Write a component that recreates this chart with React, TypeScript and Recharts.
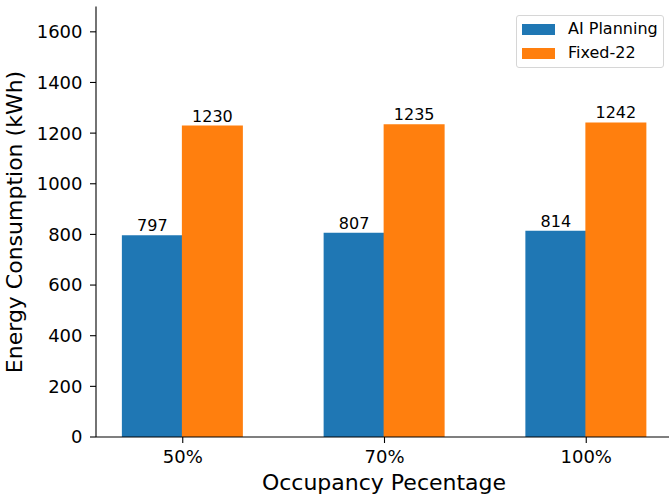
import React from 'react';
import { BarChart, Bar, XAxis, YAxis, LabelList, Label } from 'recharts';

const categories = ['50%', '70%', '100%'];
const aiPlanning = [797, 807, 814];
const fixed22 = [1230, 1235, 1242];
const yTicks = [0, 200, 400, 600, 800, 1000, 1200, 1400, 1600];

const data = categories.map((c, i) => ({
  x: i,
  name: c,
  ai: aiPlanning[i],
  fixed: fixed22[i],
}));

const FONT = '"DejaVu Sans", sans-serif';
const BLUE = '#1f77b4';
const ORANGE = '#ff7f0e';

// matplotlib-style legend box, drawn over the plot
const LegendBox = () => (
  <div
    style={{
      position: 'absolute',
      left: 516,
      top: 15,
      width: 146,
      height: 51,
      border: '1px solid #d6d6d6',
      borderRadius: 3,
      background: 'rgba(255,255,255,0.8)',
      fontFamily: FONT,
      fontSize: 16,
      color: '#000',
    }}
  >
    {[
      { label: 'AI Planning', color: BLUE, top: 6 },
      { label: 'Fixed-22', color: ORANGE, top: 30 },
    ].map((it) => (
      <div key={it.label} style={{ position: 'absolute', left: 5, top: it.top, display: 'flex', alignItems: 'center', height: 14 }}>
        <div style={{ width: 33, height: 11, background: it.color }} />
        <span style={{ marginLeft: 13, lineHeight: '14px', whiteSpace: 'nowrap' }}>{it.label}</span>
      </div>
    ))}
  </div>
);

const YTitle = () => {
  const cy = 222;
  return (
    <text
      x={22}
      y={cy}
      transform={`rotate(-90, 22, ${cy})`}
      textAnchor="middle"
      fontFamily={FONT}
      fontSize={22}
      fill="#000"
    >
      Energy Consumption (kWh)
    </text>
  );
};

const XTitle = () => (
  <text x={384} y={490} textAnchor="middle" fontFamily={FONT} fontSize={22} fill="#000">
    Occupancy Pecentage
  </text>
);

export default function App() {
  return (
    <div style={{ position: 'absolute', left: 0, top: 0, width: 669, height: 497, overflow: 'hidden', background: '#fff' }}>
      <BarChart
        width={674}
        height={497}
        data={data}
        margin={{ top: 6.5, right: 1, bottom: 0, left: 0 }}
        barGap={-1}
      >
        <XAxis
          dataKey="x"
          type="number"
          domain={[-0.43, 2.43]}
          ticks={[0, 1, 2]}
          allowDataOverflow
          tickFormatter={(v: number) => categories[v] ?? ''}
          height={60}
          tickSize={6}
          tickMargin={7}
          tick={{ fill: '#000', fontSize: 18, fontFamily: FONT }}
          axisLine={{ stroke: '#000', strokeWidth: 1.1 }}
          tickLine={{ stroke: '#000', strokeWidth: 1.1 }}
        >
          <Label content={<XTitle />} />
        </XAxis>
        <XAxis
          xAxisId="top"
          orientation="top"
          dataKey="x"
          type="number"
          domain={[-0.43, 2.43]}
          height={0}
          tick={false}
          tickLine={false}
          axisLine={{ stroke: '#000', strokeWidth: 1.1 }}
        />
        <YAxis
          type="number"
          domain={[0, 1700]}
          ticks={yTicks}
          allowDataOverflow
          width={96}
          tickSize={6}
          tickMargin={7.5}
          tick={{ fill: '#000', fontSize: 18, fontFamily: FONT }}
          axisLine={{ stroke: '#000', strokeWidth: 1.1 }}
          tickLine={{ stroke: '#000', strokeWidth: 1.1 }}
        >
          <Label content={<YTitle />} />
        </YAxis>
        <Bar dataKey="ai" name="AI Planning" fill={BLUE} barSize={61} isAnimationActive={false}>
          <LabelList dataKey="ai" position="top" offset={4} fill="#000" fontSize={16} fontFamily={FONT} />
        </Bar>
        <Bar dataKey="fixed" name="Fixed-22" fill={ORANGE} barSize={61} isAnimationActive={false}>
          <LabelList dataKey="fixed" position="top" offset={4} fill="#000" fontSize={16} fontFamily={FONT} />
        </Bar>
      </BarChart>
      <LegendBox />
    </div>
  );
}
